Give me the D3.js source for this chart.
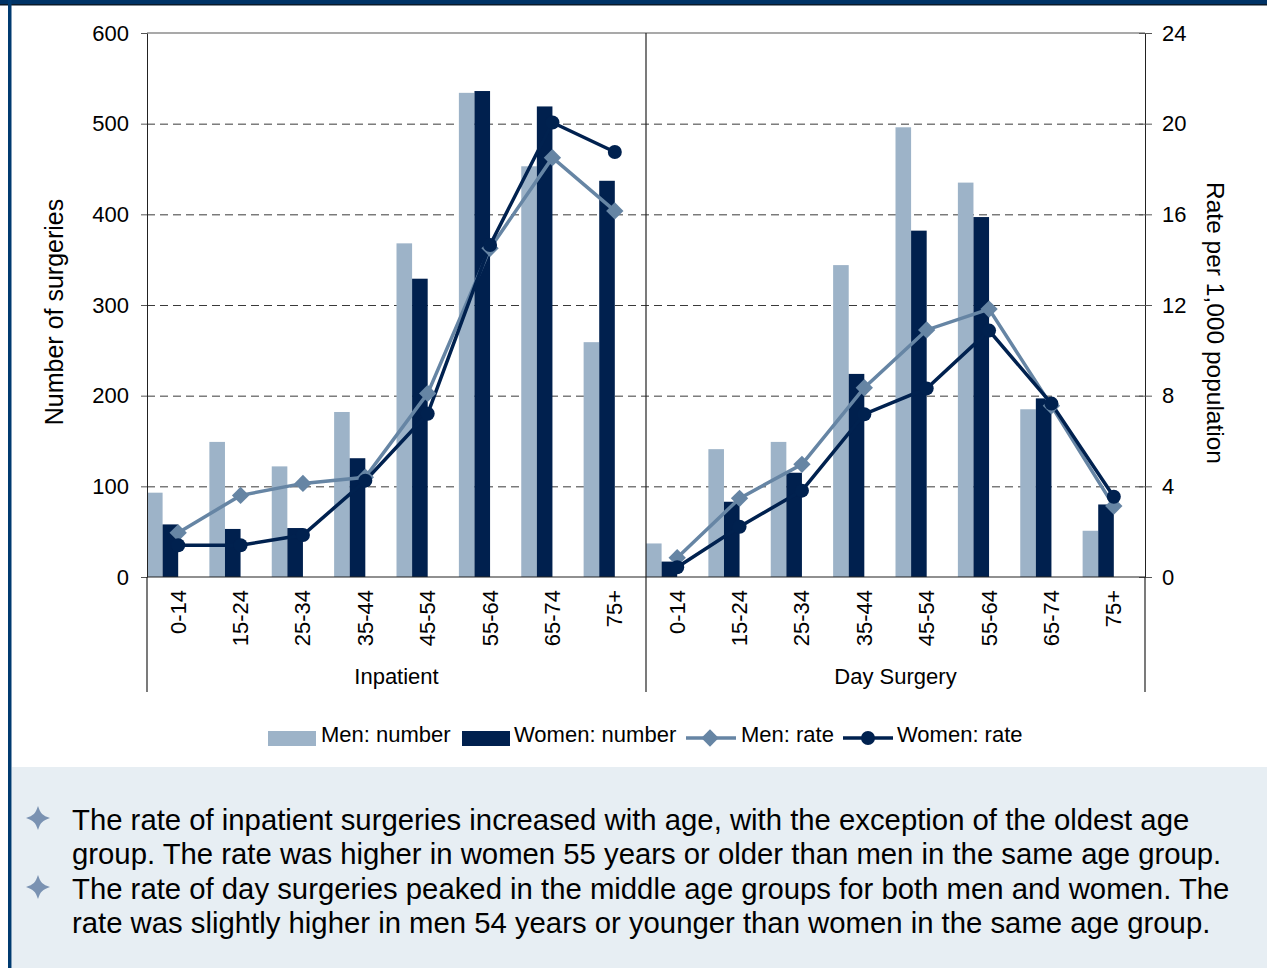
<!DOCTYPE html>
<html>
<head>
<meta charset="utf-8">
<script src="https://cdn.jsdelivr.net/npm/d3@7"></script>
<style>
  body { margin: 0; background: white; }
  text { font-family: 'Liberation Sans', Arial, sans-serif; fill: #000; }
</style>
</head>
<body>
<script>
// data
let ageGroups = ['0-14', '15-24', '25-34', '35-44', '45-54', '55-64', '65-74', '75+'];
let settings = ['Inpatient', 'Day Surgery'];

let menNumberInpatient   = [93, 149, 122, 182, 368, 534, 453, 259];
let womenNumberInpatient = [58, 53, 54, 131, 329, 536, 519, 437];
let menNumberDay         = [37, 141, 149, 344, 496, 435, 185, 51];
let womenNumberDay       = [17, 83, 115, 224, 382, 397, 197, 80];

let menRateInpatient   = [1.95, 3.6, 4.13, 4.4, 8.1, 14.5, 18.5, 16.15];
let womenRateInpatient = [1.4, 1.4, 1.85, 4.25, 7.2, 14.65, 20.05, 18.75];
let menRateDay         = [0.85, 3.47, 4.97, 8.35, 10.9, 11.82, 7.55, 3.13];
let womenRateDay       = [0.43, 2.22, 3.81, 7.18, 8.32, 10.87, 7.65, 3.54];

let leftTicks = [0, 100, 200, 300, 400, 500, 600];
let rightTicks = [0, 4, 8, 12, 16, 20, 24];

let bullets = [
  ['The rate of inpatient surgeries increased with age, with the exception of the oldest age',
   'group. The rate was higher in women 55 years or older than men in the same age group.'],
  ['The rate of day surgeries peaked in the middle age groups for both men and women. The',
   'rate was slightly higher in men 54 years or younger than women in the same age group.']
];

let colors = {
  menBar: '#9db3c8',
  womenBar: '#00204e',
  menLine: '#6685a4',
  womenLine: '#00214f'
};

let width = 1267, height = 968;
let margin = { top: 33, bottom: 391, left: 147, right: 122 };

let svg = d3.select('body')
  .append('svg')
  .attr('width', width)
  .attr('height', height)
  .style('display', 'block')

// frame
svg.append('rect').attr('x', 0).attr('y', 0).attr('width', width).attr('height', 4).attr('fill', '#003366')
svg.append('rect').attr('x', 0).attr('y', 4).attr('width', width).attr('height', 1.5).attr('fill', '#0a1a2a')
svg.append('rect').attr('x', 8).attr('y', 0).attr('width', 3.5).attr('height', height).attr('fill', '#003a70')
svg.append('rect').attr('x', 12).attr('y', 767).attr('width', width - 12).attr('height', height - 767).attr('fill', '#e7eef3')

// one row per bar group
let rows = [];
settings.forEach((s, si) => {
  ageGroups.forEach((a, i) => {
    rows.push({
      key: s + '|' + a, setting: s, age: a,
      menN: si == 0 ? menNumberInpatient[i] : menNumberDay[i],
      womenN: si == 0 ? womenNumberInpatient[i] : womenNumberDay[i],
      menR: si == 0 ? menRateInpatient[i] : menRateDay[i],
      womenR: si == 0 ? womenRateInpatient[i] : womenRateDay[i]
    })
  })
})

let plotBottom = height - margin.bottom;
let plotRight = width - margin.right;

let xScale = d3.scaleBand()
  .domain(rows.map(d => d.key))
  .range([margin.left, plotRight])
  .padding(0);

let yScale = d3.scaleLinear().domain([0, 600]).range([plotBottom, margin.top]);
let y2Scale = d3.scaleLinear().domain([0, 24]).range([plotBottom, margin.top]);

let bw = xScale.bandwidth();

// gridlines
svg.append('g')
  .attr('transform', `translate(${margin.left},0)`)
  .call(d3.axisLeft(yScale).tickValues(leftTicks.slice(1, -1)).tickSize(-(plotRight - margin.left)).tickFormat(''))
  .call(g => g.select('.domain').remove())
  .call(g => g.selectAll('line').attr('stroke', '#3a3a3a').attr('stroke-dasharray', '8,5'))

svg.append('line')
  .attr('x1', margin.left).attr('x2', plotRight)
  .attr('y1', yScale(600)).attr('y2', yScale(600))
  .attr('stroke', '#8c8c8c').attr('stroke-width', 1.5)

// bars
svg.selectAll('.men-bar')
  .data(rows)
  .enter()
  .append('rect')
  .attr('x', d => xScale(d.key))
  .attr('y', d => yScale(d.menN))
  .attr('width', bw / 4)
  .attr('height', d => plotBottom - yScale(d.menN))
  .attr('fill', colors.menBar)

svg.selectAll('.women-bar')
  .data(rows)
  .enter()
  .append('rect')
  .attr('x', d => xScale(d.key) + bw / 4)
  .attr('y', d => yScale(d.womenN))
  .attr('width', bw / 4)
  .attr('height', d => plotBottom - yScale(d.womenN))
  .attr('fill', colors.womenBar)

// axes
let leftAxis = svg.append('g')
  .attr('transform', `translate(${margin.left},0)`)
  .call(d3.axisLeft(yScale).tickValues(leftTicks).tickSize(6).tickSizeOuter(0).tickPadding(12))
leftAxis.select('.domain').attr('stroke', '#222')
leftAxis.selectAll('text').style('font-size', '22px').style('font-family', 'Liberation Sans, Arial')
leftAxis.selectAll('line').attr('stroke', '#555')

let rightAxis = svg.append('g')
  .attr('transform', `translate(${plotRight},0)`)
  .call(d3.axisRight(y2Scale).tickValues(rightTicks).tickSize(7).tickSizeOuter(0).tickPadding(10))
rightAxis.select('.domain').attr('stroke', '#222')
rightAxis.selectAll('text').style('font-size', '22px').style('font-family', 'Liberation Sans, Arial')
rightAxis.selectAll('line').attr('x1', -6).attr('stroke', '#555')

// category axis with group separators
svg.append('line')
  .attr('x1', margin.left).attr('x2', plotRight)
  .attr('y1', plotBottom).attr('y2', plotBottom)
  .attr('stroke', '#222').attr('stroke-width', 1.2)

let sepX = [margin.left, xScale(settings[1] + '|' + ageGroups[0]), plotRight];
svg.selectAll('.sep')
  .data(sepX)
  .enter()
  .append('line')
  .attr('x1', d => d).attr('x2', d => d)
  .attr('y1', (d, i) => i == 1 ? margin.top : plotBottom)
  .attr('y2', 692)
  .attr('stroke', '#222').attr('stroke-width', 1.2)

svg.selectAll('.cat-label')
  .data(rows)
  .enter()
  .append('text')
  .attr('transform', d => `translate(${xScale(d.key) + bw / 2 + 7.5},590) rotate(-90)`)
  .attr('text-anchor', 'end')
  .style('font-size', '22px')
  .text(d => d.age)

svg.selectAll('.setting-label')
  .data(settings)
  .enter()
  .append('text')
  .attr('x', s => (xScale(s + '|' + ageGroups[0]) + xScale(s + '|' + ageGroups[7]) + bw) / 2)
  .attr('y', 684)
  .attr('text-anchor', 'middle')
  .style('font-size', '22px')
  .text(s => s)

// axis titles
svg.append('text')
  .attr('transform', `translate(63,${(margin.top + plotBottom) / 2 + 7}) rotate(-90)`)
  .attr('text-anchor', 'middle')
  .style('font-size', '25px')
  .text('Number of surgeries')

svg.append('text')
  .attr('transform', `translate(1207,${(margin.top + plotBottom) / 2 + 18}) rotate(90)`)
  .attr('text-anchor', 'middle')
  .style('font-size', '24.5px')
  .text('Rate per 1,000 population')

// rate lines, one per setting
let diamond = d3.symbol().type(d3.symbolSquare).size(150);
let lineMen = d3.line().x(d => xScale(d.key) + bw / 2).y(d => y2Scale(d.menR));
let lineWomen = d3.line().x(d => xScale(d.key) + bw / 2).y(d => y2Scale(d.womenR));

settings.forEach(s => {
  let part = rows.filter(d => d.setting == s);
  svg.append('path').datum(part).attr('d', lineMen)
    .attr('fill', 'none').attr('stroke', colors.menLine).attr('stroke-width', 3.5)
  svg.append('path').datum(part).attr('d', lineWomen)
    .attr('fill', 'none').attr('stroke', colors.womenLine).attr('stroke-width', 3.5)
})

svg.selectAll('.men-marker')
  .data(rows)
  .enter()
  .append('path')
  .attr('d', diamond)
  .attr('transform', d => `translate(${xScale(d.key) + bw / 2},${y2Scale(d.menR)}) rotate(45)`)
  .attr('fill', colors.menLine)

svg.selectAll('.women-marker')
  .data(rows)
  .enter()
  .append('circle')
  .attr('cx', d => xScale(d.key) + bw / 2)
  .attr('cy', d => y2Scale(d.womenR))
  .attr('r', 7)
  .attr('fill', colors.womenLine)

// legend
let legend = svg.append('g').attr('transform', 'translate(0,738)')
legend.append('rect').attr('x', 268).attr('y', -7).attr('width', 48).attr('height', 15).attr('fill', colors.menBar)
legend.append('text').attr('x', 321).attr('y', 4).style('font-size', '22px').text('Men: number')
legend.append('rect').attr('x', 462).attr('y', -7).attr('width', 48).attr('height', 15).attr('fill', colors.womenBar)
legend.append('text').attr('x', 514).attr('y', 4).style('font-size', '22px').text('Women: number')
legend.append('line').attr('x1', 686).attr('x2', 736).attr('y1', 0).attr('y2', 0).attr('stroke', colors.menLine).attr('stroke-width', 3.5)
legend.append('path').attr('d', diamond).attr('transform', 'translate(710,0) rotate(45)').attr('fill', colors.menLine)
legend.append('text').attr('x', 741).attr('y', 4).style('font-size', '22px').text('Men: rate')
legend.append('line').attr('x1', 843).attr('x2', 893).attr('y1', 0).attr('y2', 0).attr('stroke', colors.womenLine).attr('stroke-width', 3.5)
legend.append('circle').attr('cx', 868).attr('cy', 0).attr('r', 7).attr('fill', colors.womenLine)
legend.append('text').attr('x', 897).attr('y', 4).style('font-size', '22px').text('Women: rate')

// bullet notes
let star = 'M0,-12 C2.5,-4.5 4.5,-2.5 12,0 C4.5,2.5 2.5,4.5 0,12 C-2.5,4.5 -4.5,2.5 -12,0 C-4.5,-2.5 -2.5,-4.5 0,-12 Z';
bullets.forEach((lines, i) => {
  let y0 = 830 + i * 69;
  svg.append('path').attr('d', star).attr('transform', `translate(38,${y0 - 12})`).attr('fill', '#7a92b2')
  lines.forEach((t, j) => {
    svg.append('text')
      .attr('x', 72)
      .attr('y', y0 + j * 34)
      .style('font-size', '29.3px')
      .text(t)
  })
})
</script>
</body>
</html>
